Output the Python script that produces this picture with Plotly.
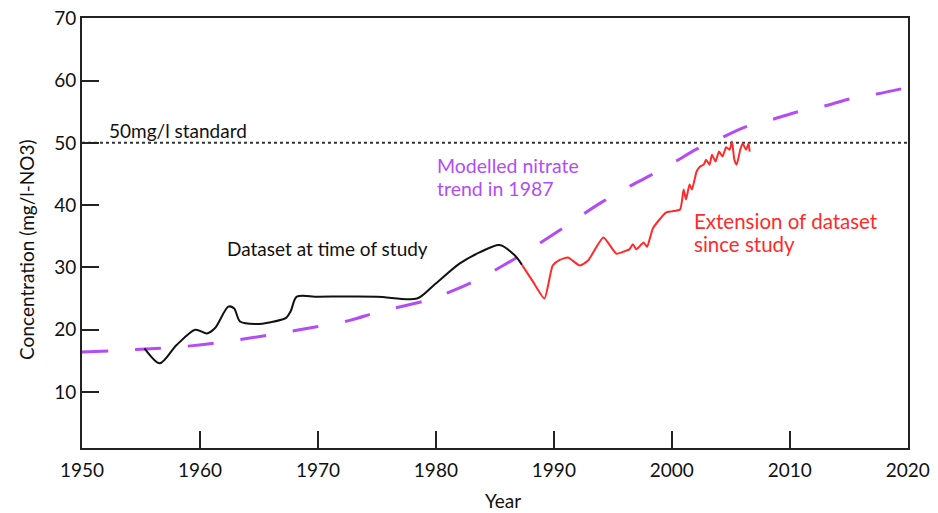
import plotly.graph_objects as go

# ---- data ----
study_years = [1955.3, 1956.6, 1958.0, 1959.6, 1960.6, 1961.3, 1962.4, 1962.9, 1963.4,
               1964.7, 1966.0, 1967.3, 1967.7, 1968.2, 1970.0, 1975.0, 1978.4, 1979.8,
               1982.0, 1983.7, 1985.4, 1986.7, 1987.3]
study_conc = [17.0, 14.6, 17.5, 20.0, 19.4, 20.3, 23.7, 23.4, 21.3,
              20.9, 21.2, 21.9, 23.0, 25.3, 25.3, 25.3, 25.0, 27.1,
              30.6, 32.4, 33.6, 31.9, 30.4]

ext_years = [1987.3, 1988.2, 1989.2, 1989.9, 1990.5, 1991.2, 1992.2, 1992.9, 1994.2,
             1995.3, 1996.0, 1996.4, 1996.7, 1997.0, 1997.6, 1997.9, 1998.4, 1999.5,
             2000.0, 2000.7, 2001.0, 2001.2, 2001.5, 2001.7, 2002.1, 2002.4, 2002.7,
             2002.9, 2003.2, 2003.4, 2003.7, 2004.0, 2004.3, 2004.6, 2004.9, 2005.1,
             2005.3, 2005.5, 2005.8, 2006.0, 2006.3, 2006.5, 2006.6]
ext_conc = [30.4, 27.8, 25.0, 30.3, 31.2, 31.6, 30.3, 31.1, 34.8,
            32.2, 32.6, 32.9, 33.7, 32.9, 34.0, 33.3, 36.3, 38.8,
            39.0, 39.3, 42.5, 40.9, 43.3, 42.5, 45.4, 46.2, 46.5,
            47.3, 46.5, 48.1, 47.0, 48.6, 47.8, 49.3, 48.9, 50.2,
            47.3, 46.5, 48.9, 49.9, 48.9, 49.9, 48.6]

model_years = [1950.0, 1954.6, 1959.2, 1963.7, 1968.2, 1972.7, 1975.0, 1979.2, 1981.5,
               1983.7, 1985.7, 1987.3, 1990.2, 1992.3, 1994.0, 1996.2, 1998.1, 2000.3,
               2002.1, 2004.3, 2006.3, 2008.6, 2010.7, 2013.1, 2015.2, 2017.5, 2020.0]
model_conc = [16.4, 16.8, 17.4, 18.5, 19.9, 21.5, 22.8, 24.7, 26.3,
              28.2, 30.3, 32.1, 35.6, 38.3, 40.4, 42.8, 44.7, 47.0,
              49.0, 50.9, 52.6, 53.8, 55.0, 56.0, 57.1, 57.9, 58.9]

standard_level = 50
x_ticks = [1950, 1960, 1970, 1980, 1990, 2000, 2010, 2020]
y_ticks = [10, 20, 30, 40, 50, 60, 70]

PURPLE = "#b44cf5"
RED = "#ff2a2a"
FONT = "Lato"

fig = go.Figure()

fig.add_trace(go.Scatter(
    x=[x_ticks[0], x_ticks[-1]], y=[standard_level, standard_level],
    mode="lines", line=dict(color="#333333", width=2, dash="dot"),
    hoverinfo="skip", showlegend=False))

fig.add_trace(go.Scatter(
    x=model_years, y=model_conc, mode="lines",
    line=dict(color=PURPLE, width=3, dash="26px,27px", shape="spline", smoothing=1.0),
    showlegend=False))

fig.add_trace(go.Scatter(
    x=study_years, y=study_conc, mode="lines",
    line=dict(color="#111111", width=2, shape="spline", smoothing=0.8),
    showlegend=False))

fig.add_trace(go.Scatter(
    x=ext_years, y=ext_conc, mode="lines",
    line=dict(color=RED, width=2, shape="spline", smoothing=0.5),
    showlegend=False))


def label(x, y, text, color, size):
    return dict(x=x, y=y, text=text, font=dict(color=color, size=size),
                xanchor="left", yanchor="middle", showarrow=False)


annos = [
    label(1952.1, 52.0, "50mg/l standard", "#111111", 19),
    label(1979.9, 46.3, "Modelled nitrate", PURPLE, 19.5),
    label(1979.9, 42.6, "trend in 1987", PURPLE, 19.5),
    label(1962.1, 33.0, "Dataset at time of study", "#111111", 19),
    label(2001.7, 37.5, "Extension of dataset", RED, 20.5),
    label(2001.7, 33.7, "since study", RED, 20.5),
    dict(xref="paper", yref="paper", x=-0.0666, y=0.463, text="Concentration (mg/l-NO3)",
         textangle=-90, font=dict(color="#111111", size=19), showarrow=False,
         xanchor="center", yanchor="middle"),
    dict(xref="paper", yref="paper", x=0.51, y=-0.122, text="Year",
         font=dict(color="#111111", size=19), showarrow=False,
         xanchor="center", yanchor="middle"),
]

# page body has an 8px default margin, so the figure is 8px smaller than the window
fig.update_layout(
    width=930, height=505,
    margin=dict(l=74, r=30, t=10, b=65, autoexpand=False),
    paper_bgcolor="white", plot_bgcolor="white",
    font=dict(family=FONT, color="#111111"),
    annotations=annos,
    showlegend=False,
)
axis_style = dict(
    showgrid=False, zeroline=False, showline=True, linecolor="#222222", linewidth=2,
    mirror=True, ticks="inside", ticklen=17, tickwidth=2, tickcolor="#222222",
    tickfont=dict(size=19, family=FONT, color="#111111"), automargin=False,
    ticklabeloverflow="allow",
)
fig.update_xaxes(range=[1950, 2020.02], tickvals=x_ticks, ticktext=[str(v) for v in x_ticks],
                 ticklabelstandoff=4, **axis_style)
fig.update_yaxes(range=[1, 70.05], tickvals=y_ticks, ticktext=[str(v) for v in y_ticks],
                 **axis_style)

fig.write_html("out.html")
